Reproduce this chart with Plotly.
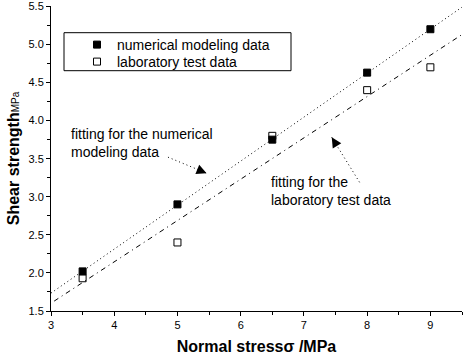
import plotly.graph_objects as go

# Data
normal_stress = [3.5, 5.0, 6.5, 8.0, 9.0]
shear_numerical = [2.02, 2.90, 3.75, 4.63, 5.20]
shear_lab = [1.93, 2.40, 3.80, 4.40, 4.70]

# Fitted lines (endpoints)
fit_num_x = [3.0, 9.5]
fit_num_y = [1.735, 5.49]
fit_lab_x = [3.05, 9.5]
fit_lab_y = [1.63, 5.13]

x_ticks = [3, 4, 5, 6, 7, 8, 9]
y_ticks = [1.5, 2.0, 2.5, 3.0, 3.5, 4.0, 4.5, 5.0, 5.5]

FONT = "Arial, Liberation Sans, sans-serif"

fig = go.Figure()

fig.add_trace(go.Scatter(x=fit_num_x, y=fit_num_y, mode="lines",
                         line=dict(color="black", width=1, dash="1px,3px"),
                         showlegend=False, hoverinfo="skip"))
fig.add_trace(go.Scatter(x=fit_lab_x, y=fit_lab_y, mode="lines",
                         line=dict(color="black", width=1, dash="5px,4px,1px,4px"),
                         showlegend=False, hoverinfo="skip"))
fig.add_trace(go.Scatter(x=normal_stress, y=shear_numerical, mode="markers",
                         name="numerical modeling data", legend="legend",
                         marker=dict(symbol="square", size=7, color="black",
                                     line=dict(color="black", width=1))))
fig.add_trace(go.Scatter(x=normal_stress, y=shear_lab, mode="markers",
                         name="laboratory test data", legend="legend2",
                         marker=dict(symbol="square-open", size=7, color="black",
                                     line=dict(color="black", width=1))))

# Legend frame
fig.add_shape(type="rect", xref="paper", yref="paper",
              x0=(64 - 51) / 411, x1=(291 - 51) / 411,
              y0=1 - (70.7 - 6) / 305, y1=1 - (32.7 - 6) / 305,
              line=dict(color="black", width=1))

# Annotation arrows (dotted shafts + heads)
arrows = [
    dict(tail=(4.85, 3.52), head=(5.46, 3.31)),
    dict(tail=(7.88, 3.19), head=(7.44, 3.78)),
]
for a in arrows:
    (tx, ty), (hx, hy) = a["tail"], a["head"]
    fig.add_shape(type="line", x0=tx, y0=ty, x1=hx, y1=hy,
                  line=dict(color="black", width=1, dash="1px,3px"))
    fig.add_annotation(x=hx, y=hy, ax=tx + (hx - tx) * 0.8, ay=ty + (hy - ty) * 0.8,
                       xref="x", yref="y", axref="x", ayref="y",
                       text="", showarrow=True, arrowhead=2, arrowsize=2,
                       arrowwidth=1, arrowcolor="black")

fig.add_annotation(x=3.28, y=3.71, xref="x", yref="y", xanchor="left", yanchor="middle",
                   text="fitting for the numerical<br>modeling data", showarrow=False,
                   align="left", font=dict(family=FONT, size=14, color="black"))
fig.add_annotation(x=6.44, y=3.07, xref="x", yref="y", xanchor="left", yanchor="middle",
                   text="fitting for the<br>laboratory test data", showarrow=False,
                   align="left", font=dict(family=FONT, size=14, color="black"))

legend_common = dict(xanchor="left", yanchor="middle", bgcolor="rgba(0,0,0,0)",
                     borderwidth=0, font=dict(family=FONT, size=14, color="black"))

fig.update_layout(
    width=463, height=355,
    margin=dict(l=51, r=1, t=6, b=44, autoexpand=False),
    paper_bgcolor="white", plot_bgcolor="white",
    font=dict(family=FONT, color="black"),
    showlegend=True,
    legend=dict(x=(77 - 51) / 411, y=1 - (45 - 6) / 305, **legend_common),
    legend2=dict(x=(77 - 51) / 411, y=1 - (62 - 6) / 305, **legend_common),
)

fig.update_xaxes(range=[3, 9.5], tickvals=x_ticks, ticks="outside", ticklen=4,
                 tickcolor="black", showline=True, linecolor="black", linewidth=1,
                 showgrid=False, zeroline=False, automargin=False,
                 minor=dict(dtick=0.5, ticks="outside", ticklen=3, tickcolor="black"),
                 tickfont=dict(family=FONT, size=11, color="black"),
                 title=dict(text="<b>Normal stressσ /MPa</b>", standoff=10,
                            font=dict(family=FONT, size=16, color="black")))
fig.update_yaxes(range=[1.5, 5.505], tickvals=y_ticks, tickformat=".1f", ticks="outside",
                 ticklen=4, tickcolor="black", showline=True, linecolor="black", linewidth=1,
                 showgrid=False, zeroline=False, automargin=False,
                 minor=dict(dtick=0.25, ticks="outside", ticklen=3, tickcolor="black"),
                 tickfont=dict(family=FONT, size=11, color="black"),
                 title=dict(text="<b>Shear strength</b><span style='font-size:10px'>MPa</span>",
                            standoff=4, font=dict(family=FONT, size=16, color="black")))

fig.write_html("out.html", config={"displayModeBar": False},
               post_script="document.body.style.margin='0';document.body.style.padding='0';")
